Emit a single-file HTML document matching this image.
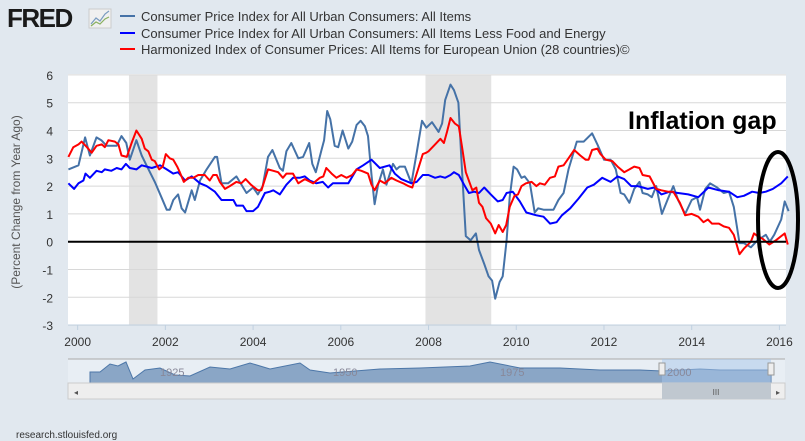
<!DOCTYPE html>
<html><head><meta charset="utf-8"><style>
body{margin:0;background:#e1e8ef;font-family:"Liberation Sans",sans-serif;}
svg{display:block}
</style></head><body>
<svg id="c" width="805" height="441" viewBox="0 0 805 441">
<rect width="805" height="441" fill="#e1e8ef"/>
<g>
<text x="7" y="27" font-size="26" font-weight="bold" fill="#1a1a1a" font-family="Liberation Sans,sans-serif" letter-spacing="-1.5">FRED</text>
<rect x="89" y="9" width="22" height="19" fill="#f0f0f0" stroke="#ccc"/>
<polyline points="91,24 96,18 100,21 105,14 109,11" fill="none" stroke="#7a9cc0" stroke-width="1.2"/>
<polyline points="91,26 96,22 100,24 105,19 109,17" fill="none" stroke="#8ab060" stroke-width="1.2"/>
</g>
<g font-size="13" fill="#333">
<g><line x1="120" y1="16" x2="135" y2="16" stroke="#4572a7" stroke-width="2"/><text x="141" y="21">Consumer Price Index for All Urban Consumers: All Items</text></g>
<g><line x1="120" y1="33" x2="135" y2="33" stroke="#0000ff" stroke-width="2"/><text x="141" y="38">Consumer Price Index for All Urban Consumers: All Items Less Food and Energy</text></g>
<g><line x1="120" y1="49" x2="135" y2="49" stroke="#ff0000" stroke-width="2"/><text x="141" y="54">Harmonized Index of Consumer Prices: All Items for European Union (28 countries)©</text></g>
</g>
<rect x="68" y="74" width="718" height="251" fill="#fff"/>
<g id="rec"></g><g id="grid"></g><g id="series"></g>
<text x="20" y="202" transform="rotate(-90 20 202)" text-anchor="middle" font-size="12" fill="#555">(Percent Change from Year Ago)</text>
<text x="628" y="129" font-size="25" font-weight="bold" fill="#000">Inflation gap</text>
<ellipse cx="778" cy="220" rx="20" ry="68" fill="none" stroke="#000" stroke-width="4"/>
<g>
<rect x="68" y="359" width="717" height="24" fill="#e8eef4"/>
<line x1="68" y1="359" x2="785" y2="359" stroke="#aaa"/>
<path d="M90,383 L90,372 L100,372 L110,364 L118,366 L126,362 L133,379 L145,370 L160,368 L175,375 L190,376 L210,367 L230,369 L250,363 L270,369 L300,363 L310,370 L330,373 L380,369 L420,368 L470,366 L490,362 L520,368 L560,368 L600,370 L640,370 L662,371 L700,369 L720,370 L771,370 L771,383 Z" fill="#8aa6c6" stroke="#4d77a8" stroke-width="1"/>
<rect x="662" y="359" width="109" height="24" fill="#a8c6ea" opacity="0.5"/>
<text x="160" y="376" font-size="11" fill="#889">1925</text><text x="333" y="376" font-size="11" fill="#889">1950</text><text x="500" y="376" font-size="11" fill="#889">1975</text><text x="667" y="376" font-size="11" fill="#889">2000</text>
<rect x="659" y="363" width="6" height="12" fill="#eee" stroke="#999"/><rect x="768" y="363" width="6" height="12" fill="#eee" stroke="#999"/>
<rect x="68" y="383" width="717" height="16" fill="#eee" stroke="#ccc"/>
<rect x="662" y="383" width="109" height="16" fill="#c0c8d0"/>
<text x="716" y="395" font-size="8" fill="#555" text-anchor="middle">III</text>
<text x="74" y="395" font-size="8" fill="#555">◂</text><text x="776" y="395" font-size="8" fill="#555">▸</text>
</g>
<text x="16" y="438" font-size="10" fill="#333">research.stlouisfed.org</text>
</svg>
<script>
const yTicks=[-3,-2,-1,0,1,2,3,4,5,6];
const xTicks=[2000,2002,2004,2006,2008,2010,2012,2014,2016];
const recessions=[[2001.17,2001.82],[2007.93,2009.43]];
const cpiYears=[1999.79,2000.02,2000.17,2000.28,2000.43,2000.54,2000.66,2000.89,2001.0,2001.11,2001.19,2001.34,2001.46,2001.57,2001.76,2001.91,2002.03,2002.1,2002.18,2002.29,2002.37,2002.45,2002.6,2002.67,2002.79,2002.94,2003.13,2003.18,2003.28,2003.43,2003.62,2003.85,2004.0,2004.11,2004.22,2004.34,2004.44,2004.61,2004.68,2004.76,2004.87,2005.03,2005.14,2005.28,2005.35,2005.43,2005.56,2005.62,2005.69,2005.76,2005.86,2005.94,2006.04,2006.17,2006.26,2006.36,2006.45,2006.55,2006.62,2006.7,2006.77,2006.85,2006.96,2007.04,2007.19,2007.27,2007.34,2007.46,2007.61,2007.73,2007.85,2007.95,2008.08,2008.23,2008.31,2008.38,2008.5,2008.58,2008.68,2008.75,2008.85,2008.96,2009.08,2009.15,2009.27,2009.37,2009.45,2009.52,2009.62,2009.69,2009.78,2009.85,2009.94,2010.02,2010.12,2010.19,2010.31,2010.42,2010.5,2010.62,2010.85,2010.96,2011.08,2011.19,2011.38,2011.54,2011.73,2011.85,2012.0,2012.15,2012.27,2012.38,2012.46,2012.58,2012.69,2012.81,2012.88,2013.0,2013.09,2013.19,2013.32,2013.46,2013.58,2013.69,2013.85,2014.0,2014.12,2014.19,2014.31,2014.42,2014.58,2014.73,2014.85,2014.96,2015.09,2015.19,2015.35,2015.5,2015.69,2015.78,2015.88,2016.04,2016.12,2016.21];
const cpiValues=[2.6,2.75,3.75,3.1,3.75,3.65,3.45,3.45,3.8,3.55,2.95,3.65,3.1,2.75,2.15,1.6,1.15,1.15,1.5,1.7,1.2,1.05,1.85,1.5,2.2,2.6,3.05,3.05,2.1,2.1,2.35,1.75,1.95,1.7,2.0,3.05,3.3,2.65,2.55,3.25,3.55,3.0,3.05,3.55,2.8,2.5,3.3,3.65,4.7,4.4,3.45,3.4,4.0,3.35,3.6,4.2,4.35,4.15,3.8,2.4,1.35,2.05,2.6,2.05,2.8,2.6,2.7,2.7,2.1,3.2,4.35,4.1,4.3,3.95,4.25,5.1,5.65,5.45,5.0,2.95,0.2,0.05,0.3,-0.3,-0.8,-1.25,-1.4,-2.05,-1.45,-1.25,0.05,1.6,2.7,2.6,2.3,2.35,2.1,1.05,1.2,1.15,1.15,1.5,1.75,2.6,3.6,3.6,3.9,3.5,2.95,2.95,2.6,1.75,1.7,1.4,1.9,2.15,1.75,1.7,1.6,2.0,1.0,1.55,2.0,1.5,1.0,1.5,1.6,1.15,1.9,2.1,1.95,1.75,1.8,1.25,-0.05,-0.05,-0.2,0.05,0.25,0,0.25,0.8,1.45,1.1];
const coreYears=[1999.79,1999.92,2000.02,2000.13,2000.18,2000.28,2000.43,2000.55,2000.62,2000.77,2000.89,2001.0,2001.1,2001.19,2001.34,2001.46,2001.69,2001.88,2002.03,2002.18,2002.29,2002.45,2002.6,2002.79,2002.94,2003.13,2003.28,2003.39,2003.55,2003.62,2003.77,2003.85,2004.0,2004.11,2004.27,2004.38,2004.46,2004.61,2004.76,2004.91,2005.06,2005.18,2005.29,2005.44,2005.59,2005.71,2005.82,2006.17,2006.36,2006.51,2006.7,2006.89,2007.11,2007.23,2007.38,2007.61,2007.73,2007.87,2008.0,2008.15,2008.27,2008.38,2008.5,2008.58,2008.69,2008.81,2008.92,2009.04,2009.15,2009.27,2009.42,2009.58,2009.69,2009.78,2009.92,2010.08,2010.23,2010.46,2010.62,2010.77,2010.92,2011.04,2011.23,2011.42,2011.62,2011.77,2011.96,2012.15,2012.31,2012.46,2012.62,2012.77,2013.0,2013.15,2013.31,2013.5,2013.69,2013.92,2014.15,2014.38,2014.62,2014.85,2015.04,2015.19,2015.38,2015.54,2015.69,2015.85,2016.04,2016.19];
const coreValues=[2.1,1.9,2.1,2.2,2.45,2.3,2.55,2.5,2.6,2.55,2.65,2.6,2.8,2.65,2.6,2.75,2.65,2.75,2.6,2.45,2.5,2.2,2.35,2.1,2.0,1.8,1.5,1.5,1.5,1.3,1.3,1.1,1.1,1.25,1.75,1.8,1.85,1.7,2.05,2.3,2.3,2.35,2.2,2.1,2.15,1.95,2.1,2.1,2.6,2.75,2.95,2.65,2.75,2.45,2.25,2.1,2.15,2.4,2.4,2.3,2.35,2.3,2.4,2.5,2.4,2.05,1.75,1.8,1.75,1.95,1.7,1.45,1.5,1.75,1.8,1.45,1.05,0.95,0.9,0.65,0.7,0.95,1.2,1.55,1.95,2.05,2.3,2.15,2.35,2.25,2.0,2.0,1.9,1.95,1.7,1.8,1.75,1.7,1.6,1.95,1.85,1.8,1.6,1.65,1.8,1.75,1.8,1.9,2.1,2.35];
const hicpYears=[1999.79,1999.9,2000.02,2000.09,2000.21,2000.32,2000.43,2000.55,2000.62,2000.7,2000.85,2000.93,2001.0,2001.12,2001.23,2001.34,2001.46,2001.53,2001.61,2001.69,2001.76,2001.86,2001.94,2002.01,2002.1,2002.18,2002.27,2002.33,2002.42,2002.52,2002.64,2002.75,2002.9,2003.01,2003.09,2003.17,2003.24,2003.36,2003.47,2003.62,2003.73,2003.83,2003.95,2004.11,2004.19,2004.34,2004.46,2004.57,2004.68,2004.76,2004.91,2005.03,2005.18,2005.37,2005.52,2005.6,2005.67,2005.79,2005.9,2006.01,2006.13,2006.26,2006.36,2006.47,2006.62,2006.7,2006.77,2006.89,2007.0,2007.15,2007.27,2007.42,2007.54,2007.63,2007.76,2007.87,2007.95,2008.0,2008.15,2008.27,2008.35,2008.42,2008.5,2008.6,2008.69,2008.77,2008.85,2009.0,2009.09,2009.15,2009.23,2009.31,2009.42,2009.52,2009.6,2009.69,2009.77,2009.85,2009.96,2010.04,2010.12,2010.22,2010.35,2010.46,2010.54,2010.65,2010.77,2010.88,2010.96,2011.08,2011.19,2011.32,2011.46,2011.58,2011.65,2011.73,2011.85,2011.92,2012.04,2012.19,2012.31,2012.46,2012.58,2012.69,2012.81,2012.88,2013.04,2013.19,2013.31,2013.46,2013.58,2013.73,2013.85,2014.0,2014.15,2014.27,2014.37,2014.46,2014.62,2014.73,2014.85,2014.96,2015.09,2015.19,2015.35,2015.42,2015.5,2015.62,2015.77,2015.92,2016.12,2016.19];
const hicpValues=[3.05,3.4,3.5,3.6,3.4,3.2,3.45,3.5,3.4,3.65,3.6,3.5,3.1,3.05,3.55,4.0,3.7,3.35,3.25,2.95,2.9,2.6,2.7,3.15,3.0,2.95,2.7,2.5,2.15,2.3,2.3,2.4,2.4,2.2,2.4,2.4,2.15,1.9,2.0,2.15,2.1,2.25,2.05,1.85,1.85,2.6,2.55,2.5,2.3,2.45,2.45,2.1,2.25,2.1,2.3,2.35,2.65,2.45,2.3,2.4,2.3,2.4,2.6,2.55,2.45,2.05,1.85,2.2,2.1,2.3,2.2,2.1,2.0,1.95,2.6,3.15,3.2,3.25,3.5,3.7,3.55,3.95,4.45,4.25,4.15,3.35,2.5,1.85,1.95,1.4,1.25,0.85,0.65,0.3,0.6,0.35,0.6,1.25,1.65,1.7,2.0,2.1,2.15,2.0,2.1,2.05,2.3,2.35,2.7,2.75,3.0,3.3,3.1,2.95,2.95,3.3,3.35,3.15,2.95,2.9,2.7,2.5,2.6,2.7,2.65,2.4,2.35,1.9,1.85,1.8,1.8,1.4,0.95,1.0,0.9,0.7,0.8,0.65,0.65,0.55,0.5,0.25,-0.45,-0.25,0.0,0.3,0.2,0.1,-0.1,0.05,0.3,-0.1];

const L=68,R=786,T=74.7,B=325;
const x0=1999.78,x1=2016.15;
const xs=v=>L+(v-x0)/(x1-x0)*(R-L);
const ys=v=>241.7-v*27.8;
const NS="http://www.w3.org/2000/svg";
function mk(tag,attrs,parent){const e=document.createElementNS(NS,tag);for(const k in attrs)e.setAttribute(k,attrs[k]);parent.appendChild(e);return e;}
const rec=document.getElementById('rec'),grid=document.getElementById('grid'),ser=document.getElementById('series'),svg=document.getElementById('c');
recessions.forEach(r=>{const e=mk('rect',{x:xs(r[0]),y:T,width:xs(r[1])-xs(r[0]),height:B-T,fill:'#e3e3e3'},rec);

});
yTicks.forEach(t=>{const l=mk('line',{x1:L,x2:R,y1:ys(t),y2:ys(t),stroke:'#d8d8d8','stroke-width':1},grid);


const tx=mk('text',{x:53,y:ys(t)+5,'text-anchor':'end','font-size':12,fill:'#333'},svg);tx.textContent=t;

});
mk('line',{x1:L,x2:R,y1:B,y2:B,stroke:'#c0d0e0'},grid);
xTicks.forEach(t=>{mk('line',{x1:xs(t),x2:xs(t),y1:B,y2:B+5,stroke:'#c0d0e0'},grid);
const tx=mk('text',{x:xs(t),y:346,'text-anchor':'middle','font-size':12,fill:'#333'},svg);tx.textContent=t;

});
function line(xsA,vs,color,name){const p=mk('polyline',{points:xsA.map((x,i)=>xs(x).toFixed(1)+','+ys(vs[i]).toFixed(1)).join(' '),fill:'none',stroke:color,'stroke-width':2,'stroke-linejoin':'round'},ser);

}
line(cpiYears,cpiValues,'#4572a7','cpi-all-items-line');
line(coreYears,coreValues,'#0000ff','core-cpi-line');
line(hicpYears,hicpValues,'#ff0000','hicp-eu-line');
const z=mk('line',{x1:L,x2:R,y1:ys(0),y2:ys(0),stroke:'#000','stroke-width':2},ser);


</script>
</body></html>
